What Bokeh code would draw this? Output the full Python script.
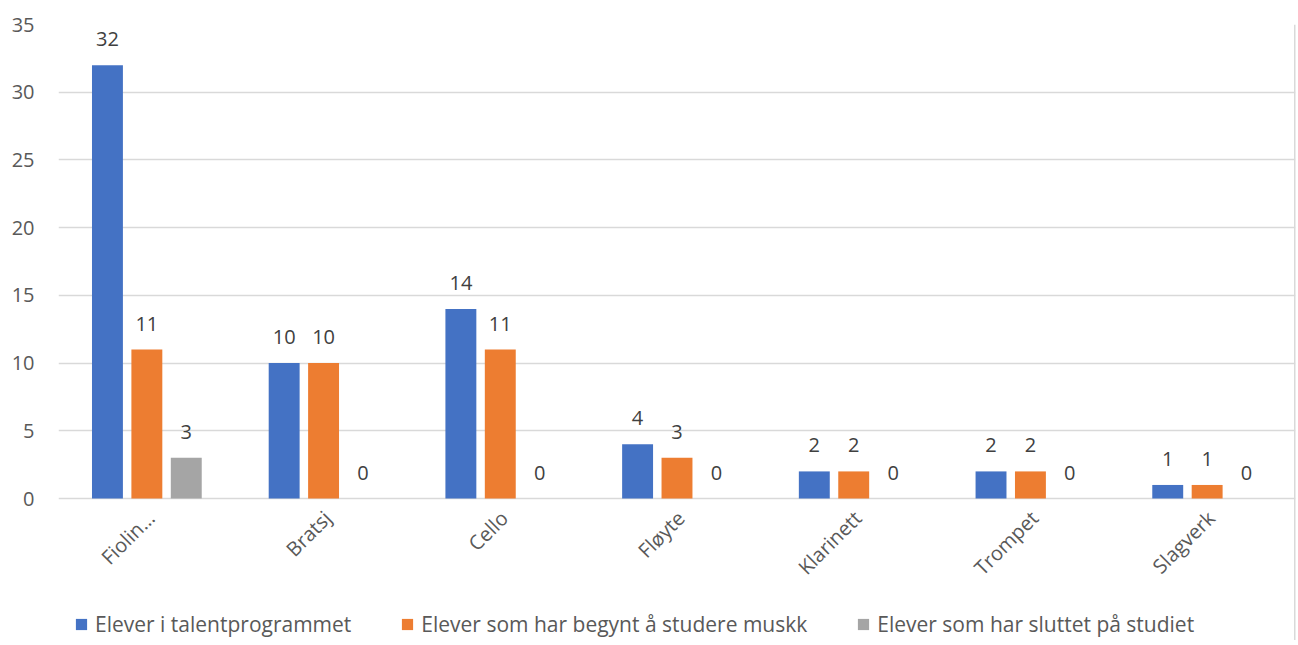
import math
from bokeh.plotting import figure
from bokeh.models import ColumnDataSource, Range1d, Legend, LegendItem, FactorRange, Span
from bokeh.transform import dodge
from bokeh.core.properties import value
from bokeh.embed import file_html
from bokeh.resources import INLINE

categories = ["Fiolin…", "Bratsj", "Cello", "Fløyte", "Klarinett", "Trompet", "Slagverk"]
talent = [32, 10, 14, 4, 2, 2, 1]
begynt = [11, 10, 11, 3, 2, 2, 1]
sluttet = [3, 0, 0, 0, 0, 0, 0]
series_names = ["Elever i talentprogrammet", "Elever som har begynt å studere muskk", "Elever som har sluttet på studiet"]
colors = ["#4472C4", "#ED7D31", "#A5A5A5"]
y_ticks = [0, 5, 10, 15, 20, 25, 30, 35]

FONT = "Open Sans"
W, H = 1296, 640
TOP, LEFT, RIGHT = 24, 58, 1
ZERO_PX = 498          # pixel row of the value 0
PX_PER_UNIT = (ZERO_PX - TOP) / 35.0
y_min = -(H - ZERO_PX) / PX_PER_UNIT

src = ColumnDataSource(dict(cat=categories, talent=talent, begynt=begynt, sluttet=sluttet,
                            zero=[0] * len(categories),
                            talent_l=[str(v) for v in talent],
                            begynt_l=[str(v) for v in begynt],
                            sluttet_l=[str(v) for v in sluttet]))

p = figure(width=W, height=H, x_range=FactorRange(*categories), y_range=Range1d(y_min, 35),
           output_backend="svg", toolbar_location=None, x_axis_location=None,
           min_border_left=LEFT, min_border_right=RIGHT, min_border_top=TOP, min_border_bottom=0)
p.outline_line_color = None
p.xgrid.grid_line_color = None
p.ygrid.grid_line_color = "#d9d9d9"
p.ygrid.grid_line_width = 1.6
p.yaxis.ticker = y_ticks
p.yaxis.axis_line_color = None
p.yaxis.major_tick_line_color = None
p.yaxis.minor_tick_line_color = None
p.yaxis.major_label_text_font = FONT
p.yaxis.major_label_text_font_size = "20px"
p.yaxis.major_label_text_color = "#595959"
p.yaxis.major_label_standoff = 18

# right border of the chart area
p.add_layout(Span(location=len(categories), dimension="height", line_color="#d9d9d9", line_width=3))

offsets = [-0.223, 0.0, 0.223]
fields = ["talent", "begynt", "sluttet"]
renderers = []
for f, off, c in zip(fields, offsets, colors):
    r = p.vbar(x=dodge("cat", off, range=p.x_range), top=f, bottom=0, width=0.175, source=src,
               fill_color=c, line_color=None)
    renderers.append(r)
    p.text(x=dodge("cat", off, range=p.x_range), y=f, text=f + "_l", source=src,
           text_align="center", text_baseline="middle", y_offset=-26,
           text_font=value(FONT), text_font_size="20px", text_color="#404040")

# category labels (rotated 45°, right end at the category centre)
p.text(x="cat", y="zero", text="cat", source=src, angle=math.pi / 4,
       text_align="right", text_baseline="middle", x_offset=4, y_offset=16,
       text_font=value(FONT), text_font_size="20px", text_color="#595959")

legend = Legend(items=[LegendItem(label=n, renderers=[r]) for n, r in zip(series_names, renderers)],
                orientation="horizontal", location=(16, 2),
                label_text_font=FONT, label_text_font_size="21px", label_text_color="#595959",
                glyph_width=14, glyph_height=14, spacing=49, border_line_color=None,
                background_fill_alpha=0, margin=0, padding=2, label_standoff=7,
                label_height=20)
p.add_layout(legend, "center")

open("out.html", "w").write(file_html(p, INLINE))
